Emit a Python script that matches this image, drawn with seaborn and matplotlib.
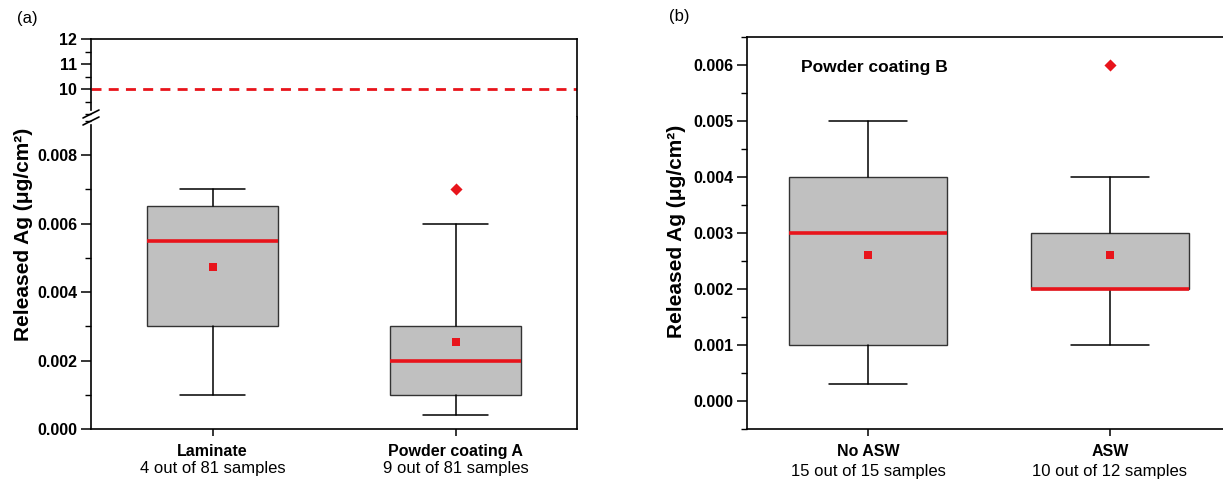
import numpy as np
import pandas as pd
import seaborn as sns
import matplotlib.pyplot as plt
from matplotlib.ticker import MultipleLocator, AutoMinorLocator
from matplotlib.lines import Line2D

# panel (a): box statistics
a_names = ["Laminate", "Powder coating A"]
a_counts = ["4 out of 81 samples", "9 out of 81 samples"]
a_whislo = [0.001, 0.0004]
a_q1 = [0.003, 0.001]
a_med = [0.0055, 0.002]
a_q3 = [0.0065, 0.003]
a_whishi = [0.007, 0.006]
a_mean = [0.00474, 0.00254]
a_outlier_pos = [1]
a_outlier_val = [0.007]
a_limit = 10

# panel (b)
b_names = ["No ASW", "ASW"]
b_counts = ["15 out of 15 samples", "10 out of 12 samples"]
b_whislo = [0.0003, 0.001]
b_q1 = [0.001, 0.002]
b_med = [0.003, 0.002]
b_q3 = [0.004, 0.003]
b_whishi = [0.005, 0.004]
b_mean = [0.0026, 0.0026]
b_outlier_pos = [1]
b_outlier_val = [0.006]

RED = "#e8141b"
GREY = "#c0c0c0"
W, H = 1223, 479

sns.set_theme(style="ticks", rc={
    "axes.edgecolor": "black", "axes.linewidth": 1.2,
    "xtick.color": "black", "ytick.color": "black",
    "text.color": "black", "axes.labelcolor": "black",
    "xtick.major.width": 1.1, "ytick.major.width": 1.1,
    "ytick.minor.width": 1.0,
})
plt.rcParams["font.family"] = ["Liberation Sans", "DejaVu Sans"]


def rect(x0, y0, x1, y1):
    # pixel box (top-left origin) -> figure fraction
    return [x0 / W, 1 - y1 / H, (x1 - x0) / W, (y1 - y0) / H]


def draw_boxes(ax, whislo, q1, med, q3, whishi, mean, out_pos, out_val, width):
    stats = [dict(whislo=lo, q1=a, med=m, q3=b, whishi=hi, fliers=[])
             for lo, a, m, b, hi in zip(whislo, q1, med, q3, whishi)]
    pos = list(range(len(stats)))
    ax.bxp(stats, positions=pos, widths=width, capwidths=width / 2,
           patch_artist=True, showfliers=False,
           boxprops=dict(facecolor=GREY, edgecolor="#333333", linewidth=1.0),
           medianprops=dict(color=RED, linewidth=2.6),
           whiskerprops=dict(color="black", linewidth=1.1),
           capprops=dict(color="black", linewidth=1.1),
           manage_ticks=False)
    sns.scatterplot(x=pos, y=mean, marker="s", s=38, color=RED, linewidth=0,
                    ax=ax, zorder=5)
    sns.scatterplot(x=out_pos, y=out_val, marker="D", s=38, color=RED,
                    linewidth=0, ax=ax, zorder=5)


def cat_labels(ax, names, counts, offsets):
    ax.set_xticks(range(len(names)), labels=names, fontweight="bold", fontsize=11.5)
    ax.tick_params(axis="x", direction="out", length=5, pad=6, bottom=True, top=False)
    for i, (txt, off) in enumerate(zip(counts, offsets)):
        ax.annotate(txt, xy=(i, 0), xycoords=("data", "axes fraction"),
                    xytext=(0, off), textcoords="offset points",
                    ha="center", va="top", fontsize=12)


def y_ticks(ax, ticks, fmt):
    ax.set_yticks(ticks, labels=[fmt.format(t) for t in ticks],
                  fontweight="bold", fontsize=11.5)
    ax.yaxis.set_minor_locator(AutoMinorLocator(2))
    ax.tick_params(axis="y", which="major", direction="out", length=7, pad=3)
    ax.tick_params(axis="y", which="minor", direction="out", length=4)


fig = plt.figure(figsize=(W / 100, H / 100), dpi=100)

# ---- panel (a): broken axis ----
ax_top = fig.add_axes(rect(91, 39, 577, 117))
ax_bot = fig.add_axes(rect(91, 117, 577, 429), sharex=ax_top)

draw_boxes(ax_bot, a_whislo, a_q1, a_med, a_q3, a_whishi, a_mean,
           a_outlier_pos, a_outlier_val, 0.535)
ax_top.axhline(a_limit, color=RED, linestyle=(0, (3.6, 2.6)), linewidth=2)

ax_top.set_xlim(-0.5, 1.5)
ax_top.set_ylim(8.88, 12)
ax_bot.set_ylim(0, 0.00911)

ax_top.spines["bottom"].set_visible(False)
ax_bot.spines["top"].set_visible(False)
ax_top.spines["left"].set_bounds(9.16, 12)
ax_top.spines["right"].set_bounds(8.8, 12)
ax_bot.spines["left"].set_bounds(0, 0.00888)

y_ticks(ax_top, [10, 11, 12], "{:d}")
y_ticks(ax_bot, [0.0, 0.002, 0.004, 0.006, 0.008], "{:.3f}")
ax_top.tick_params(axis="x", bottom=False, labelbottom=False)
cat_labels(ax_bot, a_names, a_counts, [-23, -23])

# break marks on the left spine
for dy in (0, 7):
    x0, y0, x1, y1 = 83, 118 + dy, 99, 110 + dy
    fig.add_artist(Line2D([x0 / W, x1 / W], [1 - y0 / H, 1 - y1 / H],
                          color="black", linewidth=1.2))

fig.text(24 / W, 1 - 234 / H, "Released Ag (μg/cm²)", rotation=90,
         ha="center", va="center", fontsize=15, fontweight="bold")
fig.text(27 / W, 1 - 18 / H, "(a)", ha="center", va="center", fontsize=12)

# ---- panel (b) ----
ax_b = fig.add_axes(rect(747, 37, 1231, 429))
draw_boxes(ax_b, b_whislo, b_q1, b_med, b_q3, b_whishi, b_mean,
           b_outlier_pos, b_outlier_val, 0.65)
ax_b.set_xlim(-0.5, 1.5)
ax_b.set_ylim(-0.0005, 0.0065)
y_ticks(ax_b, [0.0, 0.001, 0.002, 0.003, 0.004, 0.005, 0.006], "{:.3f}")
cat_labels(ax_b, b_names, b_counts, [-25, -25.5])
ax_b.text(0.112, 0.921, "Powder coating B", transform=ax_b.transAxes,
          ha="left", va="center", fontsize=12.5, fontweight="bold")

fig.text(676 / W, 1 - 231 / H, "Released Ag (μg/cm²)", rotation=90,
         ha="center", va="center", fontsize=15, fontweight="bold")
fig.text(679 / W, 1 - 17 / H, "(b)", ha="center", va="center", fontsize=12)

fig.savefig("out.png", dpi=100)
